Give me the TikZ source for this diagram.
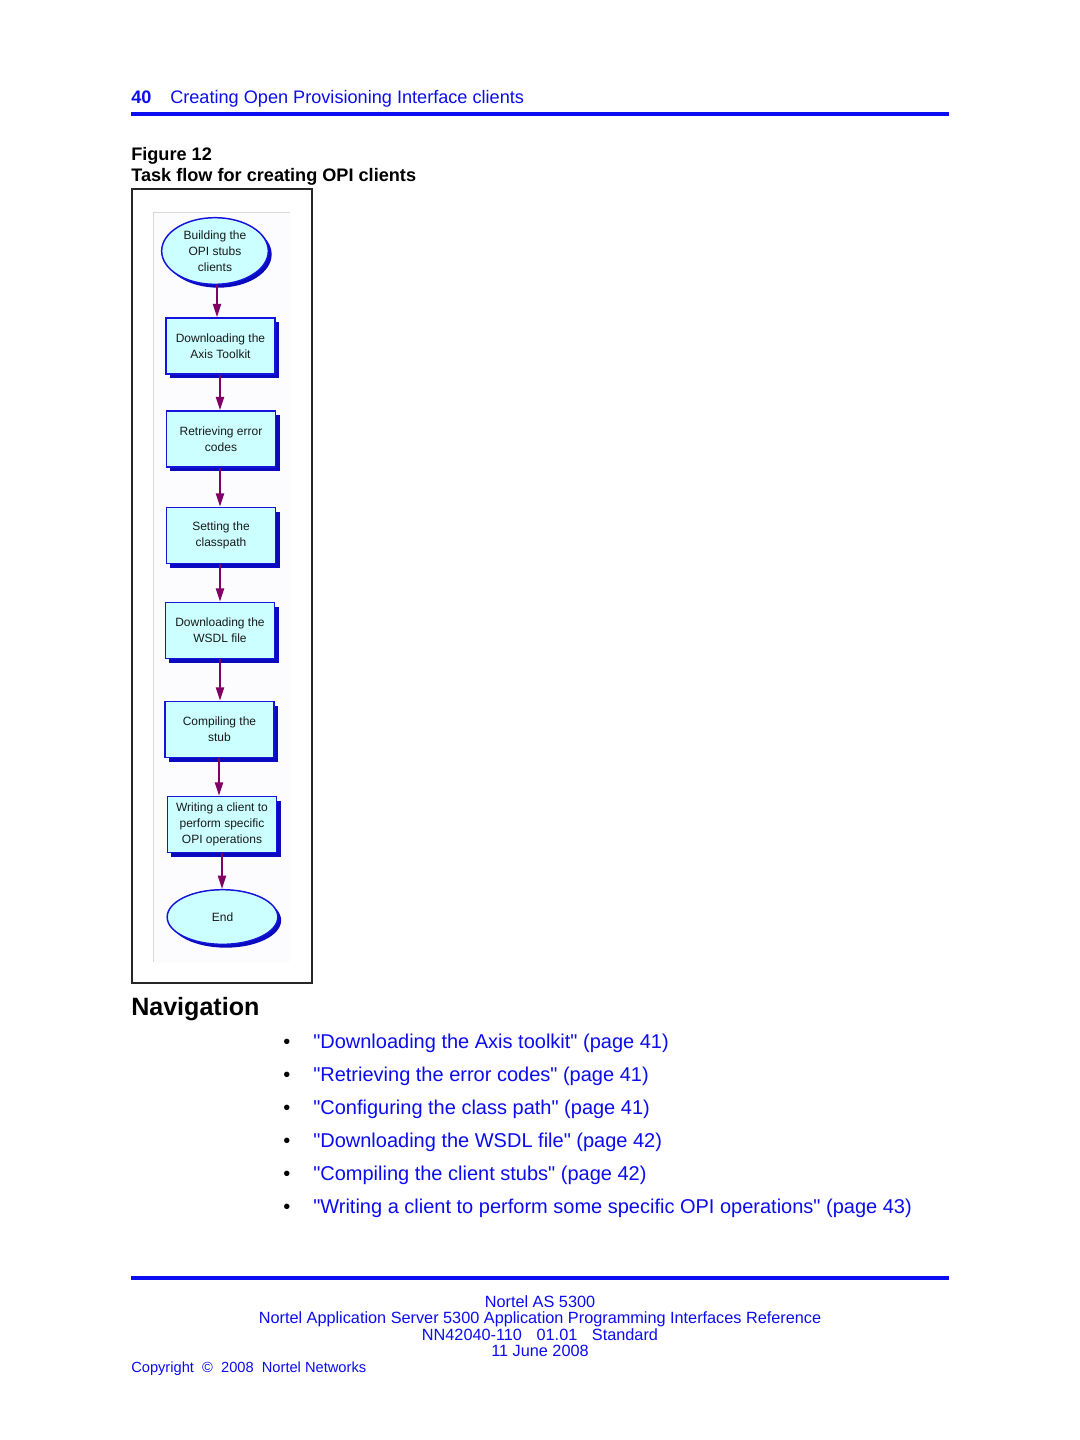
\documentclass[tikz,border=0pt]{standalone}
\usepackage{fontspec}
\setmainfont{Liberation Sans}
\usetikzlibrary{shapes.geometric,shadows,arrows.meta}
\definecolor{hdrblue}{RGB}{12,12,240}
\definecolor{nodefill}{RGB}{204,255,255}
\definecolor{nodeedge}{RGB}{20,20,220}
\definecolor{shadowblue}{RGB}{10,10,190}
\definecolor{arrowpurple}{RGB}{128,0,100}
\newcommand{\qq}{\textquotedbl}
\tikzset{
  px/.style={x={0.75pt},y={-0.75pt}},
  flowtext/.style={font=\fontsize{9}{12}\selectfont, text=black!90, align=center},
  taskbox/.style={flowtext, rectangle, draw=nodeedge, line width=1.1pt, fill=nodefill,
     minimum width=82pt, minimum height=42pt, inner sep=1pt,
     drop shadow={shadow xshift=3pt, shadow yshift=-3pt, fill=shadowblue, opacity=1}},
  termnode/.style={flowtext, ellipse, draw=nodeedge, line width=1.1pt, fill=nodefill, inner sep=0pt,
     drop shadow={shadow xshift=2.5pt, shadow yshift=-2.5pt, fill=shadowblue, opacity=1}},
  flowarrow/.style={draw=arrowpurple, line width=1.6pt, -{Triangle[width=6pt,length=10pt]}},
  hdr/.style={anchor=base west, inner sep=0pt, text=hdrblue, font=\fontsize{13.6}{16}\selectfont},
  navlink/.style={anchor=base west, inner sep=0pt, text=hdrblue, font=\fontsize{15}{18}\selectfont},
  navbullet/.style={anchor=base west, inner sep=0pt, text=black, font=\fontsize{15}{18}\selectfont},
  foot/.style={anchor=base, inner sep=0pt, text=hdrblue, font=\fontsize{12.2}{14}\selectfont},
}
\begin{document}
\begin{tikzpicture}[px]
\useasboundingbox[fill=white] (0,0) rectangle (1080,1440);

% header
\node[hdr, font=\fontsize{13.6}{16}\selectfont\bfseries] (pagenum) at (131,103) {40};
\node[hdr] (chaptitle) at (170,103) {Creating Open Provisioning Interface clients};
\draw[hdrblue, line width=3pt] (131,114) coordinate (hrA) -- (949,114) coordinate (hrB);

% figure caption
\node[anchor=base west, inner sep=0pt, font=\fontsize{13.6}{16}\selectfont\bfseries] (figno) at (131,160) {Figure 12};
\node[anchor=base west, inner sep=0pt, font=\fontsize{13.6}{16}\selectfont\bfseries] (figcap) at (131,181) {Task flow for creating OPI clients};

% frame
\draw[black!85, line width=1.5pt] (132,189) rectangle (312,983);
\fill[blue!1] (153,212) rectangle (290,962);
\draw[black!15, line width=0.6pt] (290,212) -- (153,212) -- (153,962);

% flow nodes
\node[termnode, minimum width=80pt, minimum height=50pt] (start) at (215,251) {Building the\\OPI stubs\\clients};
\node[taskbox] (axis) at (220.5,346) {Downloading the\\Axis Toolkit};
\node[taskbox] (errors) at (221,439) {Retrieving error\\codes};
\node[taskbox] (classpath) at (221,535.5) {Setting the\\classpath};
\node[taskbox] (wsdl) at (220,630.5) {Downloading the\\WSDL file};
\node[taskbox] (compile) at (219.5,729.5) {Compiling the\\stub};
\node[taskbox] (writing) at (222,824.5) {Writing a client to\\perform specific\\OPI operations};
\node[termnode, minimum width=83pt, minimum height=41pt] (endnode) at (222.5,917) {End};

% connectors
\draw[flowarrow] (start.south -| 217,0) -- (axis.north -| 217,0);
\draw[flowarrow] (axis.south -| 220,0) -- (errors.north -| 220,0);
\draw[flowarrow] (errors.south -| 220,0) -- (classpath.north -| 220,0);
\draw[flowarrow] (classpath.south -| 220,0) -- (wsdl.north -| 220,0);
\draw[flowarrow] (wsdl.south -| 220,0) -- (compile.north -| 220,0);
\draw[flowarrow] (compile.south -| 219,0) -- (writing.north -| 219,0);
\draw[flowarrow] (writing.south -| 222,0) -- (endnode.north -| 222,0);

% navigation
\node[anchor=base west, inner sep=0pt, font=\fontsize{18.8}{22}\selectfont\bfseries] (navhead) at (131,1015) {Navigation};
\foreach \i/\txt in {0/{\qq Downloading the Axis toolkit\qq{} (page 41)},
                     1/{\qq Retrieving the error codes\qq{} (page 41)},
                     2/{\qq Configuring the class path\qq{} (page 41)},
                     3/{\qq Downloading the WSDL file\qq{} (page 42)},
                     4/{\qq Compiling the client stubs\qq{} (page 42)},
                     5/{\qq Writing a client to perform some specific OPI operations\qq{} (page 43)}}{
  \node[navbullet] (bul\i) at (283,1048+33*\i) {•};
  \node[navlink] (nav\i) at (313,1048+33*\i) {\txt};
}

% footer
\draw[hdrblue, line width=3pt] (131,1278) coordinate (frA) -- (949,1278) coordinate (frB);
\node[foot] (f1) at (540,1307) {Nortel AS 5300};
\node[foot] (f2) at (540,1323.5) {Nortel Application Server 5300 Application Programming Interfaces Reference};
\node[foot] (f3) at (540,1340) {NN42040-110\hspace{0.9em}01.01\hspace{0.9em}Standard};
\node[foot] (f4) at (540,1356) {11 June 2008};
\node[anchor=base west, inner sep=0pt, text=hdrblue, font=\fontsize{11}{13}\selectfont] (copy) at (131,1372) {Copyright\ \ ©\ \ 2008\ \ Nortel Networks};
\end{tikzpicture}
\end{document}
